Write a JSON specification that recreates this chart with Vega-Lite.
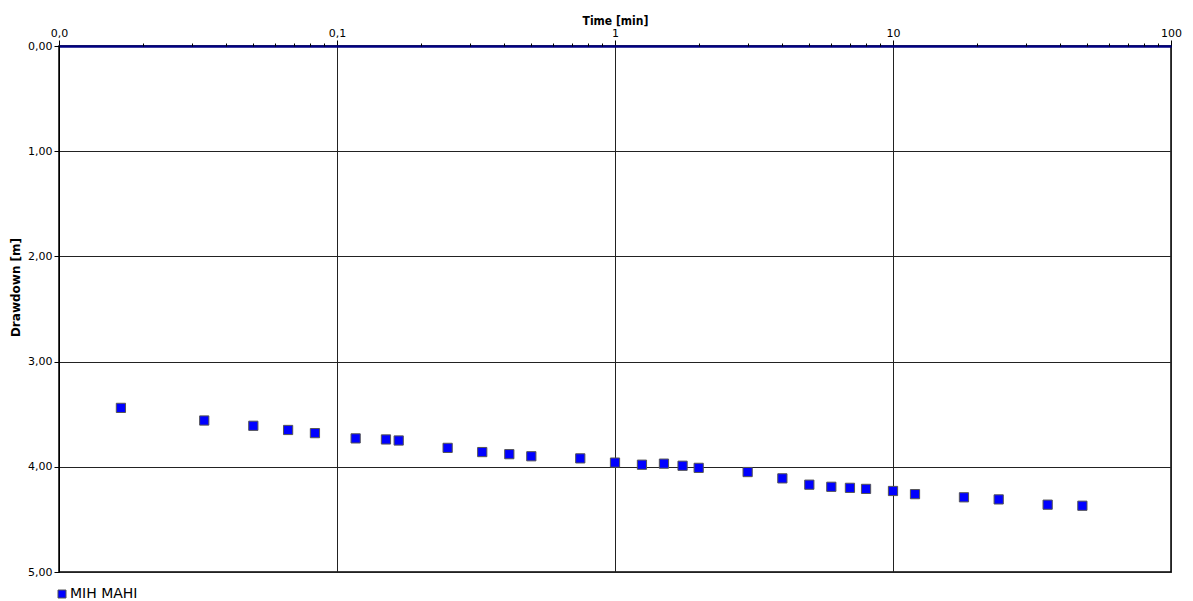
{
  "$schema": "https://vega.github.io/schema/vega-lite/v6.json",
  "autosize": {"type": "none"},
  "width": 1112,
  "height": 526,
  "padding": {"left": 59, "top": 46, "right": 22, "bottom": 29},
  "background": "white",
  "config": {
    "font": "DejaVu Sans",
    "view": {"stroke": "#000000", "strokeWidth": 1.5},
    "axis": {"labelColor": "#000", "titleColor": "#000"}
  },
  "data": {
    "values": [
      {"t": 0.0167, "s": 3.44, "series": "MIH MAHI"},
      {"t": 0.0333, "s": 3.56, "series": "MIH MAHI"},
      {"t": 0.05, "s": 3.61, "series": "MIH MAHI"},
      {"t": 0.0667, "s": 3.65, "series": "MIH MAHI"},
      {"t": 0.0833, "s": 3.68, "series": "MIH MAHI"},
      {"t": 0.1167, "s": 3.73, "series": "MIH MAHI"},
      {"t": 0.15, "s": 3.74, "series": "MIH MAHI"},
      {"t": 0.1667, "s": 3.75, "series": "MIH MAHI"},
      {"t": 0.25, "s": 3.82, "series": "MIH MAHI"},
      {"t": 0.333, "s": 3.86, "series": "MIH MAHI"},
      {"t": 0.4167, "s": 3.88, "series": "MIH MAHI"},
      {"t": 0.5, "s": 3.90, "series": "MIH MAHI"},
      {"t": 0.75, "s": 3.92, "series": "MIH MAHI"},
      {"t": 1.0, "s": 3.96, "series": "MIH MAHI"},
      {"t": 1.25, "s": 3.98, "series": "MIH MAHI"},
      {"t": 1.5, "s": 3.97, "series": "MIH MAHI"},
      {"t": 1.75, "s": 3.99, "series": "MIH MAHI"},
      {"t": 2.0, "s": 4.01, "series": "MIH MAHI"},
      {"t": 3.0, "s": 4.05, "series": "MIH MAHI"},
      {"t": 4.0, "s": 4.11, "series": "MIH MAHI"},
      {"t": 5.0, "s": 4.17, "series": "MIH MAHI"},
      {"t": 6.0, "s": 4.19, "series": "MIH MAHI"},
      {"t": 7.0, "s": 4.20, "series": "MIH MAHI"},
      {"t": 8.0, "s": 4.21, "series": "MIH MAHI"},
      {"t": 10.0, "s": 4.23, "series": "MIH MAHI"},
      {"t": 12.0, "s": 4.26, "series": "MIH MAHI"},
      {"t": 18.0, "s": 4.29, "series": "MIH MAHI"},
      {"t": 24.0, "s": 4.31, "series": "MIH MAHI"},
      {"t": 36.0, "s": 4.36, "series": "MIH MAHI"},
      {"t": 48.0, "s": 4.37, "series": "MIH MAHI"}
    ]
  },
  "resolve": {"axis": {"x": "independent"}},
  "layer": [
    {
      "mark": {"type": "point", "shape": "square", "filled": true, "size": 85, "stroke": "#555555", "strokeWidth": 1, "opacity": 1},
      "encoding": {
        "x": {
          "field": "t", "type": "quantitative",
          "scale": {"type": "log", "domain": [0.01, 100], "nice": false},
          "axis": {
            "orient": "top",
            "values": [0.01, 0.1, 1, 10, 100],
            "labelExpr": "datum.value < 0.05 ? '0,0' : datum.value < 0.5 ? '0,1' : format(datum.value, 'd')",
            "title": "Time [min]",
            "titleFontSize": 12,
            "titleFontWeight": "bold",
            "titleFont": "DejaVu Sans Condensed",
            "titlePadding": 0,
            "labelFontSize": 11,
            "labelPadding": 2,
            "labelFlush": false,
            "tickSize": 6,
            "tickColor": "#000",
            "domainColor": "#000080",
            "domainWidth": 2.5,
            "grid": true,
            "gridColor": "#222222",
            "gridWidth": 1,
            "gridOpacity": 1
          }
        },
        "y": {
          "field": "s", "type": "quantitative",
          "scale": {"domain": [0, 5], "reverse": true, "nice": false},
          "axis": {
            "values": [0, 1, 2, 3, 4, 5],
            "labelExpr": "replace(format(datum.value, '.2f'), '.', ',')",
            "title": "Drawdown  [m]",
            "titleFontSize": 12,
            "titleFontWeight": "bold",
            "titleY": 241,
            "titleX": -37,
            "titleAlign": "center",
            "titleBaseline": "bottom",
            "labelFontSize": 11,
            "labelPadding": 2,
            "tickSize": 5,
            "tickColor": "#000",
            "domainColor": "#000",
            "grid": true,
            "gridColor": "#222222",
            "gridWidth": 1,
            "gridOpacity": 1
          }
        },
        "color": {
          "field": "series", "type": "nominal",
          "scale": {"range": ["#0000ff"]},
          "legend": {
            "orient": "none",
            "legendX": -4,
            "legendY": 541,
            "title": null,
            "symbolType": "square",
            "symbolSize": 64,
            "symbolStrokeColor": "#555555",
            "symbolStrokeWidth": 1,
            "labelFontSize": 14,
            "labelOffset": 1
          }
        }
      }
    },
    {
      "mark": {"type": "point", "opacity": 0},
      "encoding": {
        "x": {
          "field": "t", "type": "quantitative",
          "scale": {"type": "log", "domain": [0.01, 100], "nice": false},
          "axis": {
            "orient": "top",
            "values": [0.02,0.03,0.04,0.05,0.06,0.07,0.08,0.09,0.2,0.3,0.4,0.5,0.6,0.7,0.8,0.9,2,3,4,5,6,7,8,9,20,30,40,50,60,70,80,90],
            "labels": false,
            "title": null,
            "tickSize": 3,
            "tickColor": "#000",
            "domain": false,
            "grid": false
          }
        },
        "y": {"field": "s", "type": "quantitative", "scale": {"domain": [0, 5], "reverse": true, "nice": false}}
      }
    }
  ]
}
